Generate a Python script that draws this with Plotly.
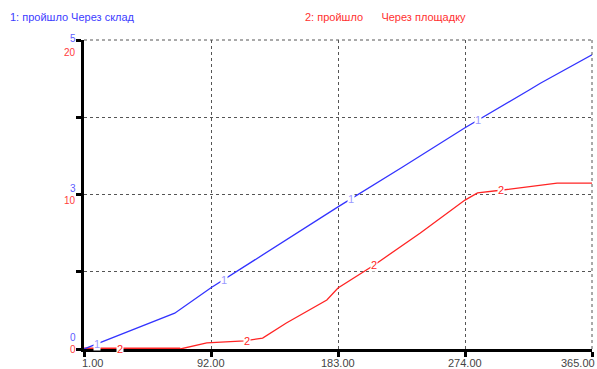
import numpy as np
import plotly.graph_objects as go

# Series 1: пройшло Через склад (scale 0..5)
days_1 = [1, 66, 92, 138, 183, 229, 274, 320, 328, 365]
vals_1 = [0.0, 0.58, 0.99, 1.65, 2.30, 2.94, 3.58, 4.19, 4.30, 4.76]

# Series 2: пройшло Через площадку (scale 0..20)
days_2 = [1, 70, 89, 116, 129, 146, 175, 183, 209, 242, 274, 283, 301, 328, 340, 365]
vals_2 = [0.0, 0.0, 0.39, 0.52, 0.71, 1.68, 3.17, 3.95, 5.44, 7.51, 9.64, 10.10, 10.29, 10.61, 10.74, 10.74]

x_ticks = [1, 92, 183, 274, 365]
x_labels = ["1.00", "92.00", "183.00", "274.00", "365.00"]
y1_ticks = [0, 2.5, 5]
y1_labels = ["0", "3", "5"]
y2_ticks = [0, 10, 20]
y2_labels = ["0", "10", "20"]

# days at which the curve number markers sit
mark_days_1 = [10, 101, 192, 283]
mark_days_2 = [27, 118, 209, 300]

BLUE = "#3333ff"
RED = "#ff2424"
FONT = "Liberation Sans, Arial, sans-serif"

fig = go.Figure()

# red flat stretch at zero drawn heavier, over the axis
zero_d = [d for d, v in zip(days_2, vals_2) if v == 0]
fig.add_trace(go.Scatter(x=zero_d, y=[0] * len(zero_d), mode="lines", yaxis="y",
                         line=dict(color=RED, width=3), hoverinfo="skip"))
fig.add_trace(go.Scatter(x=days_2, y=vals_2, mode="lines", yaxis="y",
                         line=dict(color=RED, width=1.3)))
fig.add_trace(go.Scatter(x=days_1, y=vals_1, mode="lines", yaxis="y2",
                         line=dict(color=BLUE, width=1.3)))

ann = []
# curve number markers
for d in mark_days_1:
    ann.append(dict(x=d, y=float(np.interp(d, days_1, vals_1)), xref="x", yref="y2",
                    text="1", showarrow=False, bgcolor="white", borderpad=0,
                    font=dict(family=FONT, size=11, color="#9a9aff")))
for d in mark_days_2:
    ann.append(dict(x=d, y=float(np.interp(d, days_2, vals_2)), xref="x", yref="y",
                    text="2", showarrow=False, bgcolor="white", borderpad=0,
                    font=dict(family=FONT, size=11, color=RED)))

# stacked left-hand scale labels
blue_shift = [12, 6, 2]
red_shift = [0, -6, -12]
for v, t, s in zip(y1_ticks, y1_labels, blue_shift):
    ann.append(dict(x=0, y=v, xref="paper", yref="y2", text=t, showarrow=False,
                    xanchor="right", xshift=-6, yshift=s,
                    font=dict(family=FONT, size=10, color="#5c5cff")))
for v, t, s in zip(y2_ticks, y2_labels, red_shift):
    ann.append(dict(x=0, y=v, xref="paper", yref="y", text=t, showarrow=False,
                    xanchor="right", xshift=-6, yshift=s,
                    font=dict(family=FONT, size=10, color="#ff3c3c")))

# time labels: end labels are kept inside the frame
x_anchor = ["left", "center", "center", "center", "right"]
x_shift = [-4, 0, 0, 0, 5]
for v, t, a, s in zip(x_ticks, x_labels, x_anchor, x_shift):
    ann.append(dict(x=v, y=0, xref="x", yref="paper", text=t, showarrow=False,
                    xanchor=a, yanchor="top", xshift=s, yshift=-6,
                    font=dict(family=FONT, size=11, color="#444444")))

# headers (positions given in pixels, converted below)
headers = [
    dict(x=8, y=17, text="1: пройшло Через склад", color="#3c3cff"),
    dict(x=303, y=17, text="2: пройшло&nbsp;&nbsp;&nbsp;&nbsp;&nbsp;&nbsp;Через площадку",
         color="#ff3030"),
]

W, H = 597, 369
L, R, T, B = 84, 5, 40, 20
pw, ph = W - L - R, H - T - B
for h in headers:
    ann.append(dict(x=(h["x"] - L) / pw, y=(H - B - h["y"]) / ph,
                    xref="paper", yref="paper", text=h["text"], showarrow=False,
                    xanchor="left", yanchor="middle",
                    font=dict(family=FONT, size=11, color=h["color"])))

# dotted frame on the top and right edges
shapes = [
    dict(type="line", xref="paper", yref="paper", x0=0, x1=1, y0=1, y1=1,
         line=dict(color="#555555", width=1, dash="dot")),
    dict(type="line", xref="paper", yref="paper", x0=1, x1=1, y0=0, y1=1,
         line=dict(color="#555555", width=1, dash="dot")),
]

fig.update_layout(
    width=W, height=H,
    margin=dict(l=L, r=R, t=T, b=B),
    paper_bgcolor="white", plot_bgcolor="white",
    showlegend=False,
    annotations=ann,
    shapes=shapes,
    xaxis=dict(range=[1, 365], tickvals=x_ticks, showticklabels=False, automargin=False,
               showgrid=True, gridcolor="#555555", griddash="dot", gridwidth=1,
               showline=True, linecolor="black", linewidth=2.5,
               ticks="outside", ticklen=5, tickwidth=2.5, tickcolor="black",
               zeroline=False, layer="below traces"),
    yaxis=dict(range=[0, 20], tickvals=[0, 5, 10, 15, 20], showticklabels=False,
               automargin=False,
               showgrid=True, gridcolor="#555555", griddash="dot", gridwidth=1,
               showline=True, linecolor="black", linewidth=2.5,
               ticks="outside", ticklen=5, tickwidth=2.5, tickcolor="black",
               zeroline=False, layer="below traces"),
    yaxis2=dict(range=[0, 5], overlaying="y", side="left", showgrid=False,
                automargin=False,
                showticklabels=False, showline=False, zeroline=False, ticks=""),
)

fig.write_html("out.html")
